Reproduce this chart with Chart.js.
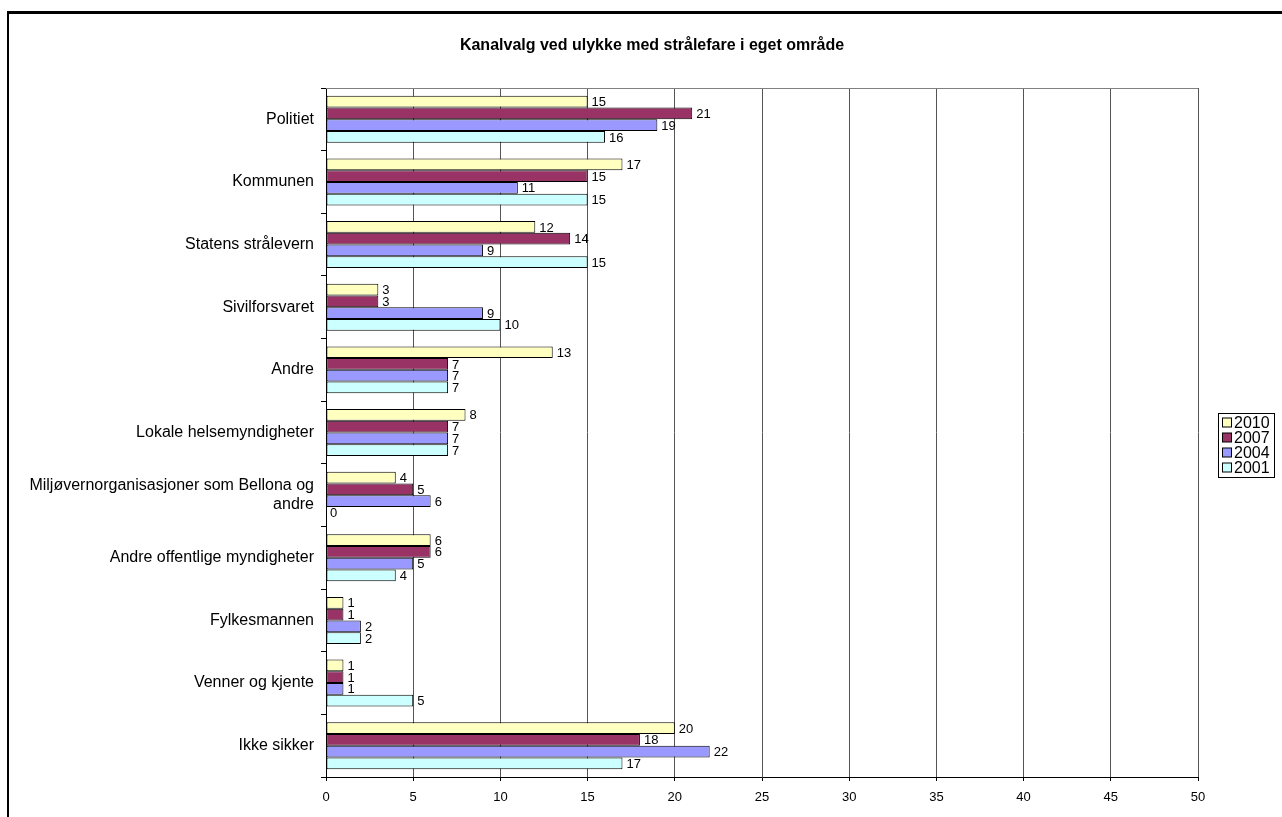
<!DOCTYPE html>
<html>
<head>
<meta charset="utf-8">
<script src="https://cdn.jsdelivr.net/npm/chart.js@4.4.0/dist/chart.umd.min.js"></script>
<style>
  html, body { margin: 0; padding: 0; background: #fff; }
  canvas { display: block; }
</style>
</head>
<body>
<canvas id="chart" width="1282" height="817"></canvas>
<script>
const titleText = "Kanalvalg ved ulykke med strålefare i eget område";
const categories = [
  "Politiet",
  "Kommunen",
  "Statens strålevern",
  "Sivilforsvaret",
  "Andre",
  "Lokale helsemyndigheter",
  ["Miljøvernorganisasjoner som Bellona og", "andre"],
  "Andre offentlige myndigheter",
  "Fylkesmannen",
  "Venner og kjente",
  "Ikke sikker"
];
const seriesNames = ["2010", "2007", "2004", "2001"];
const values2010 = [15, 17, 12, 3, 13, 8, 4, 6, 1, 1, 20];
const values2007 = [21, 15, 14, 3, 7, 7, 5, 6, 1, 1, 18];
const values2004 = [19, 11, 9, 9, 7, 7, 6, 5, 2, 1, 22];
const values2001 = [16, 15, 15, 10, 7, 7, 0, 4, 2, 5, 17];
const seriesColors = ["#FFFFC0", "#993366", "#9999FF", "#CCFFFF"];
const xMin = 0, xMax = 50, xStep = 5;

const FONT = "'Liberation Sans', Arial, sans-serif";

// frame lines, title, value labels and the boxed legend
const decorations = {
  id: "decorations",
  beforeDraw(chart) {
    const ctx = chart.ctx;
    ctx.save();
    ctx.fillStyle = "#000";
    ctx.fillRect(7, 11, 1275, 3);
    ctx.fillRect(7, 11, 2, 806);
    ctx.font = "bold 16px " + FONT;
    ctx.textAlign = "center";
    ctx.textBaseline = "middle";
    ctx.fillText(titleText, 652, 46);
    ctx.restore();
  },
  afterDatasetsDraw(chart) {
    const ctx = chart.ctx;
    const area = chart.chartArea;
    ctx.save();
    // plot border top
    ctx.strokeStyle = "#808080";
    ctx.lineWidth = 1;
    ctx.beginPath();
    ctx.moveTo(area.left, area.top + 0.5);
    ctx.lineTo(area.right, area.top + 0.5);
    ctx.stroke();

    ctx.font = "13px " + FONT;
    ctx.fillStyle = "#000";
    ctx.textAlign = "left";
    ctx.textBaseline = "middle";
    chart.data.datasets.forEach((ds, i) => {
      chart.getDatasetMeta(i).data.forEach((bar, j) => {
        ctx.fillText(String(ds.data[j]), bar.x + 4, bar.y + 1);
      });
    });

    // legend
    const lx = 1218, ly = 413, lw = 56, rowH = 15;
    const lh = rowH * seriesNames.length + 4;
    ctx.fillStyle = "#fff";
    ctx.fillRect(lx, ly, lw, lh);
    ctx.strokeStyle = "#000";
    ctx.strokeRect(lx + 0.5, ly + 0.5, lw, lh);
    ctx.font = "16px " + FONT;
    seriesNames.forEach((name, i) => {
      const cy = ly + 2 + rowH * i + rowH / 2;
      ctx.fillStyle = seriesColors[i];
      ctx.fillRect(lx + 4.5, cy - 4.5, 9, 9);
      ctx.strokeRect(lx + 4.5, cy - 4.5, 9, 9);
      ctx.fillStyle = "#000";
      ctx.fillText(name, lx + 16, cy + 1);
    });
    ctx.restore();
  }
};

const seriesValues = [values2010, values2007, values2004, values2001];

new Chart(document.getElementById("chart").getContext("2d"), {
  type: "bar",
  data: {
    labels: categories,
    datasets: seriesNames.map((name, i) => ({
      label: name,
      data: seriesValues[i],
      backgroundColor: seriesColors[i],
      borderColor: "#000",
      borderWidth: 1,
      borderSkipped: false,
      categoryPercentage: 0.75,
      barPercentage: 1.0
    }))
  },
  options: {
    indexAxis: "y",
    responsive: false,
    animation: false,
    layout: { padding: { left: 0, right: 84, top: 88, bottom: 0 } },
    plugins: {
      legend: { display: false },
      title: { display: false },
      tooltip: { enabled: false }
    },
    scales: {
      x: {
        min: xMin,
        max: xMax,
        ticks: {
          stepSize: xStep,
          color: "#000",
          font: { family: FONT, size: 13 },
          padding: 9,
          maxRotation: 0
        },
        grid: { color: "#555555", tickLength: 4, tickColor: "#000" },
        border: { color: "#000", width: 1 },
        afterFit(scale) { scale.height = 40; }
      },
      y: {
        ticks: {
          color: "#000",
          font: { family: FONT, size: 16, lineHeight: 1.15 },
          padding: 7
        },
        grid: { drawOnChartArea: false, tickLength: 5, color: "#000", offset: true },
        border: { color: "#000", width: 1 },
        afterFit(scale) { scale.width = 326; }
      }
    }
  },
  plugins: [decorations]
});
</script>
</body>
</html>
